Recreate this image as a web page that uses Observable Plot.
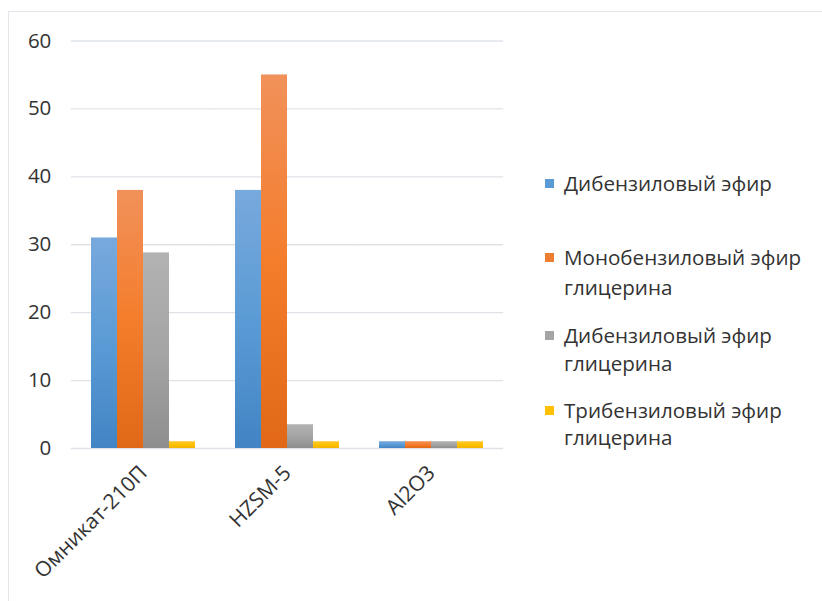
<!DOCTYPE html>
<html>
<head>
<meta charset="utf-8">
<script src="https://cdn.jsdelivr.net/npm/d3@7"></script>
<script src="https://cdn.jsdelivr.net/npm/@observablehq/plot@0.6"></script>
<style>
  html, body { margin: 0; padding: 0; background: #fff; }
  body { width: 822px; height: 601px; position: relative; overflow: hidden; font-family: "Open Sans", sans-serif; }
  #frame { position: absolute; left: 8px; top: 11px; width: 830px; height: 600px; border-left: 1.5px solid #e2e6eb; border-top: 1.5px solid #e2e6eb; }
  #chart { position: absolute; left: 0; top: 0; }
  #legend { position: absolute; left: 0; top: 0; width: 822px; height: 601px; pointer-events: none; }
  .sw { position: absolute; width: 9px; height: 9px; }
  .lt { position: absolute; font-size: 20.6px; color: #333; line-height: 29px; white-space: nowrap; }
</style>
</head>
<body>
<div id="frame"></div>
<div id="chart"></div>
<div id="legend"></div>
<script>
const categories = ["Омникат-210П", "HZSM-5", "Al2O3"];
const series = ["Дибензиловый эфир", "Монобензиловый эфир глицерина", "Дибензиловый эфир глицерина", "Трибензиловый эфир глицерина"];
const legendLines = [["Дибензиловый эфир"], ["Монобензиловый эфир", "глицерина"], ["Дибензиловый эфир", "глицерина"], ["Трибензиловый эфир", "глицерина"]];
const valuesDibenzyl = [31, 38, 1];
const valuesMono = [38, 55, 1];
const valuesDiGly = [28.8, 3.5, 1];
const valuesTri = [1, 1, 1];
const yTicks = [0, 10, 20, 30, 40, 50, 60];
const baseColors = ["#5b9bd5", "#ed7d31", "#a5a5a5", "#ffc000"];
const gradStops = [
  ["#78a9dd", "#5b9bd5", "#4284c4"],
  ["#f1915a", "#f47d2c", "#e06817"],
  ["#b3b3b3", "#a5a5a5", "#8e8e8e"],
  ["#ffc936", "#ffc000", "#f2b400"]
];

const seriesValues = [valuesDibenzyl, valuesMono, valuesDiGly, valuesTri];
const data = [];
categories.forEach((c, i) => series.forEach((s, j) => data.push({category: c, series: s, value: seriesValues[j][i]})));

const W = 520, mL = 71, mR = 17;
const padInner = 0.28, padOuter = padInner / 2;
const step = (W - mL - mR) / categories.length;
const gapHalf = padInner * step / 2; // extend grid across gaps between facets

const plot = Plot.plot({
  width: W,
  height: 600,
  marginLeft: mL,
  marginRight: mR,
  marginTop: 40.5,
  marginBottom: 152,
  style: {fontFamily: "Open Sans, sans-serif", fontSize: "20px", color: "#333", background: "transparent", overflow: "visible"},
  fx: {domain: categories, paddingInner: padInner, paddingOuter: padOuter, label: null},
  x: {domain: series, padding: 0, axis: null},
  y: {domain: [0, 60], ticks: yTicks, label: null},
  color: {type: "ordinal", domain: series, range: series.map((s, j) => `url(#grad${j})`)},
  marks: [
    Plot.ruleY(yTicks, {stroke: "#dfe3e8", strokeWidth: 1.3, insetLeft: -gapHalf, insetRight: -gapHalf}),
    Plot.axisY({ticks: yTicks, tickSize: 0, tickPadding: 20 + gapHalf, fontSize: 20.5, label: null}),
    Plot.axisFx({anchor: "bottom", tickRotate: -45, tickSize: 0, tickPadding: 21, fontSize: 21, label: null}),
    Plot.barY(data, {fx: "category", x: "series", y: "value", fill: "series", inset: 0})
  ]
});

const svg = d3.select(plot);
const defs = svg.insert("defs", ":first-child");
gradStops.forEach((st, j) => {
  const g = defs.append("linearGradient").attr("id", `grad${j}`).attr("x1", 0).attr("y1", 0).attr("x2", 0).attr("y2", 1);
  g.append("stop").attr("offset", "0%").attr("stop-color", st[0]);
  g.append("stop").attr("offset", "50%").attr("stop-color", st[1]);
  g.append("stop").attr("offset", "100%").attr("stop-color", st[2]);
});
document.getElementById("chart").appendChild(plot);

// legend
const legend = document.getElementById("legend");
const itemTops = [[168.5], [242.5, 272.5], [320.5, 348.5], [395.5, 422.5]];
legendLines.forEach((lines, j) => {
  const sw = document.createElement("div");
  sw.className = "sw";
  sw.style.left = "545px";
  sw.style.top = (itemTops[j][0] + 10) + "px";
  sw.style.background = baseColors[j];
  legend.appendChild(sw);
  lines.forEach((t, k) => {
    const d = document.createElement("div");
    d.className = "lt";
    d.style.left = "564px";
    d.style.top = itemTops[j][k] + "px";
    d.textContent = t;
    legend.appendChild(d);
  });
});
</script>
</body>
</html>
